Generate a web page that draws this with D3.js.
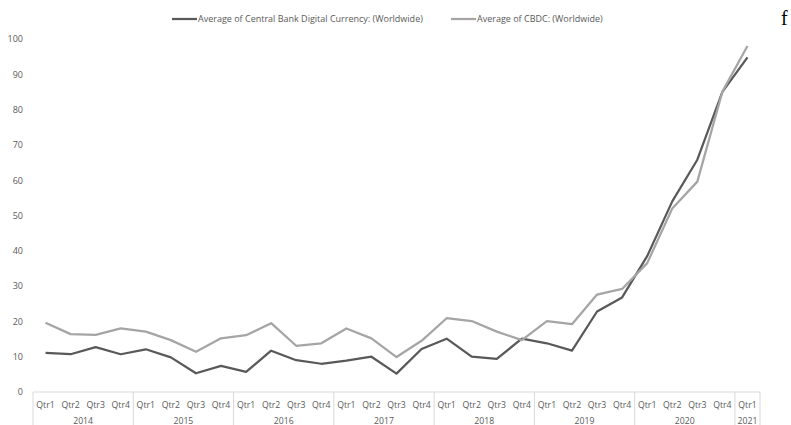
<!DOCTYPE html>
<html>
<head>
<meta charset="utf-8">
<script src="https://cdn.jsdelivr.net/npm/d3@7/dist/d3.min.js"></script>
<style>
  html, body { margin: 0; padding: 0; background: #fff; }
  svg { display: block; }
  text { font-family: "Open Sans", "Liberation Sans", sans-serif; }
  text.panel { font-family: "Liberation Serif", "DejaVu Serif", serif; }
</style>
</head>
<body>
<svg id="chart" width="791" height="425"></svg>
<script>
// Quarterly categories, grouped by year
const years = ["2014", "2015", "2016", "2017", "2018", "2019", "2020", "2021"];
const quarters = ["Qtr1", "Qtr2", "Qtr3", "Qtr4"];
const quartersPerYear = [4, 4, 4, 4, 4, 4, 4, 1];

// Search interest, averaged per quarter
const seriesNames = [
  "Average of Central Bank Digital Currency: (Worldwide)",
  "Average of CBDC: (Worldwide)"
];
const cbdcFull = [
  11.1, 10.7, 12.7, 10.7,
  12.1, 9.8, 5.3, 7.4,
  5.7, 11.7, 9.0, 8.0,
  8.9, 10.0, 5.2, 12.2,
  15.1, 10.0, 9.4, 15.1,
  13.8, 11.7, 22.8, 26.8,
  38.5, 54.0, 65.8, 85.0,
  94.8
];
const cbdcShort = [
  19.6, 16.4, 16.2, 18.0,
  17.1, 14.7, 11.4, 15.2,
  16.1, 19.5, 13.1, 13.8,
  18.0, 15.2, 9.9, 14.5,
  20.9, 20.1, 17.1, 14.7,
  20.1, 19.2, 27.6, 29.2,
  36.5, 52.0, 59.6, 85.1,
  98.0
];
const yTicks = [0, 10, 20, 30, 40, 50, 60, 70, 80, 90, 100];

const colors = ["#595959", "#a5a5a5"];

// Flatten into one category list
const cats = [];
years.forEach((yr, i) => {
  for (let q = 0; q < quartersPerYear[i]; q++) cats.push({ year: yr, q: quarters[q], key: yr + "-" + quarters[q] });
});

const svg = d3.select("#chart");
const plotLeft = 33, plotRight = 760, plotTop = 39, plotBottom = 392;

const x = d3.scaleBand().domain(cats.map(d => d.key)).range([plotLeft, plotRight]).padding(0);
const y = d3.scaleLinear().domain([0, 100]).range([plotBottom, plotTop]);

// Value axis labels
const yAxis = d3.axisLeft(y).tickValues(yTicks).tickSize(0).tickPadding(10);
const ya = svg.append("g").attr("transform", `translate(${plotLeft},0)`).call(yAxis);
ya.select(".domain").remove();
ya.selectAll("text").attr("fill", "#595959").attr("font-size", 9);

// Category axis: quarter row + year row inside a light box
const axisCol = "#d9d9d9";
const g = svg.append("g");
g.append("line").attr("x1", plotLeft).attr("x2", plotRight).attr("y1", plotBottom).attr("y2", plotBottom)
  .attr("stroke", axisCol).attr("stroke-width", 1);

const qAxis = d3.axisBottom(x).tickSize(0).tickPadding(10).tickFormat(k => k.split("-")[1]);
const qa = svg.append("g").attr("transform", `translate(0,${plotBottom})`).call(qAxis);
qa.select(".domain").remove();
qa.selectAll("text").attr("fill", "#595959").attr("font-size", 8.7);

// Year groups
let idx = 0;
const groups = years.map((yr, i) => {
  const start = cats[idx].key;
  const end = cats[idx + quartersPerYear[i] - 1].key;
  idx += quartersPerYear[i];
  return { yr, x0: x(start), x1: x(end) + x.bandwidth() };
});
const boundaries = [plotLeft].concat(groups.map(gr => gr.x1));
g.selectAll("line.sep").data(boundaries).join("line")
  .attr("class", "sep")
  .attr("x1", d => d).attr("x2", d => d)
  .attr("y1", plotBottom).attr("y2", 425)
  .attr("stroke", axisCol).attr("stroke-width", 1);
g.selectAll("text.yr").data(groups).join("text")
  .attr("class", "yr")
  .attr("x", d => (d.x0 + d.x1) / 2)
  .attr("y", 423.5)
  .attr("text-anchor", "middle")
  .attr("fill", "#595959")
  .attr("font-size", 8.7)
  .text(d => d.yr);

// Lines
const line = d3.line()
  .x((d, i) => x(cats[i].key) + x.bandwidth() / 2)
  .y(d => y(d));
[cbdcFull, cbdcShort].forEach((s, i) => {
  svg.append("path")
    .datum(s)
    .attr("d", line)
    .attr("fill", "none")
    .attr("stroke", colors[i])
    .attr("stroke-width", 2.25)
    .attr("stroke-linejoin", "round");
});

// Legend
const legendItems = [
  { name: seriesNames[0], color: colors[0], x: 172 },
  { name: seriesNames[1], color: colors[1], x: 451 }
];
const lg = svg.append("g");
legendItems.forEach(it => {
  lg.append("line").attr("x1", it.x).attr("x2", it.x + 25).attr("y1", 19).attr("y2", 19)
    .attr("stroke", it.color).attr("stroke-width", 2.25);
  lg.append("text").attr("x", it.x + 26).attr("y", 22)
    .attr("fill", "#595959").attr("font-size", 9)
    .text(it.name);
});

// Panel label
svg.append("text").attr("class", "panel").attr("x", 781).attr("y", 25)
  .attr("font-size", 20).attr("fill", "#000").text("f");
</script>
</body>
</html>
